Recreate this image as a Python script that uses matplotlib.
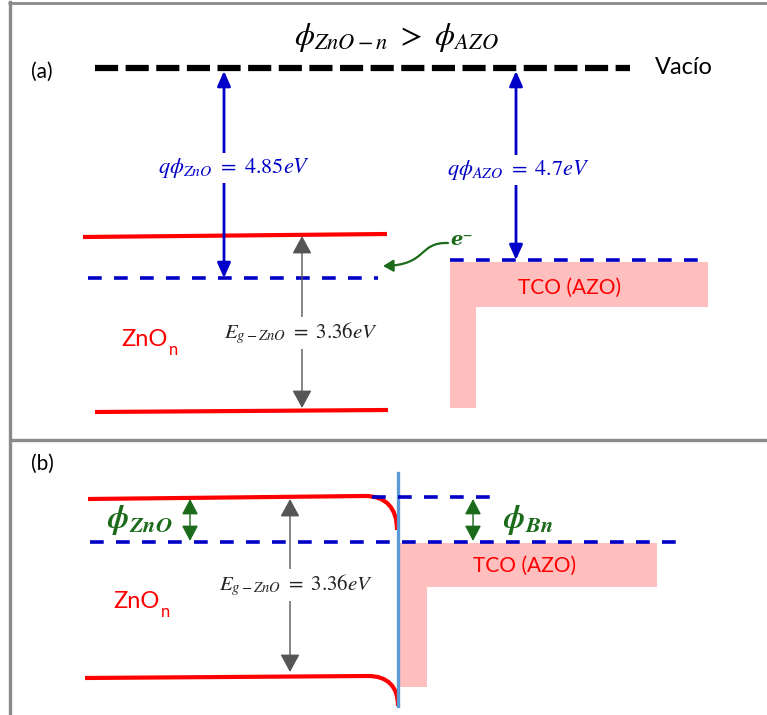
import matplotlib
matplotlib.use('Agg')
import matplotlib.pyplot as plt
from matplotlib.path import Path
from matplotlib.patches import PathPatch, Polygon, FancyArrowPatch

# 能带参数 (eV)
phi_zno = 4.85
phi_azo = 4.7
eg_zno = 3.36
panel_tags = ['(a)', '(b)']
vacuum_label = 'Vacío'
tco_label = 'TCO (AZO)'

RED = '#ff0000'
BLUE = '#0000c8'
PINK = '#ffbfbf'
GREEN = '#1b6b1b'
GRAY = '#555555'
EDGE = '#8a8a8a'
IFACE = '#5b9bd5'

plt.rcParams['mathtext.fontset'] = 'stix'
plt.rcParams['font.family'] = ['Lato', 'DejaVu Sans']

fig = plt.figure(figsize=(7.67, 7.15), dpi=100)
ax = fig.add_axes([0, 0, 1, 1])
ax.set_xlim(0, 767)
ax.set_ylim(715, 0)
ax.axis('off')


def hline(x0, x1, y0, y1=None, **kw):
    ax.plot([x0, x1], [y0, y0 if y1 is None else y1], solid_capstyle='butt', **kw)


def dashed(x0, x1, y, color, lw, pattern):
    ax.plot([x0, x1], [y, y], color=color, lw=lw, linestyle=(0, pattern),
            dash_capstyle='butt')


def arrow(x, y0, y1, color, lw, hl, hw, style='<|-|>'):
    ax.annotate('', xy=(x, y1), xytext=(x, y0),
                arrowprops=dict(arrowstyle=f'{style},head_length={hl},head_width={hw}',
                                color=color, lw=lw, shrinkA=0, shrinkB=0))


def label(x, y, s, color, size, **kw):
    ax.text(x, y, s, color=color, fontsize=size, ha='center', va='center',
            bbox=dict(fc='white', ec='none', pad=2), **kw)


def bent(x0, y0, xk, yk, x1, y1):
    # 平直能带到界面处弯曲
    verts = [(x0, y0), (xk, yk), (xk + (x1 - xk) * 0.65, yk),
             (x1, yk + (y1 - yk) * 0.35), (x1, y1)]
    codes = [Path.MOVETO, Path.LINETO, Path.CURVE4, Path.CURVE4, Path.CURVE4]
    ax.add_patch(PathPatch(Path(verts, codes), fill=False, ec=RED, lw=3))


def tco_block(x0, x1, xl, ytop, ybar, ybot):
    ax.add_patch(Polygon([(x0, ytop), (x1, ytop), (x1, ybar), (xl, ybar),
                          (xl, ybot), (x0, ybot)], closed=True, fc=PINK, ec='none'))


# 外框与分隔线
hline(8, 767, 3, color=EDGE, lw=2)
ax.plot([10, 10], [2, 715], color=EDGE, lw=2.4)
hline(10, 767, 440, color=EDGE, lw=2.4)

# ---------------- (a) ----------------
ax.text(42, 72, panel_tags[0], fontsize=15, ha='center', va='center')
ax.text(396, 38, r'$\phi_{ZnO-n}\ >\ \phi_{AZO}$', fontsize=23, ha='center', va='center')
dashed(95, 630, 68, 'black', 4.5, (3.7, 1.2))
ax.text(655, 68, vacuum_label, fontsize=17, ha='left', va='center')

tco_block(450, 708, 476, 262, 307, 408)
ax.text(570, 288, tco_label, fontsize=15, color=RED, ha='center', va='center')

hline(83, 387, 237, 234, color=RED, lw=3)
hline(95, 388, 412, 410, color=RED, lw=3)
dashed(88, 378, 278, BLUE, 2.6, (3.8, 3.4))
dashed(450, 708, 260, BLUE, 2.6, (3.8, 3.4))

arrow(224, 278, 71, BLUE, 2, 0.9, 0.4)
arrow(516, 260, 71, BLUE, 2, 0.9, 0.4)
label(234, 168, rf'$q\phi_{{ZnO}}\ =\ {phi_zno}eV$', BLUE, 16)
label(518, 170, rf'$q\phi_{{AZO}}\ =\ {phi_azo}eV$', BLUE, 16)

arrow(302, 408, 236, GRAY, 1, 1.1, 0.6)
label(301, 333, rf'$E_{{g-ZnO}}\ =\ {eg_zno}eV$', '#222222', 15)

ax.text(121, 340, 'ZnO', fontsize=17, color=RED, ha='left', va='center')
ax.text(169, 350, 'n', fontsize=12, color=RED, ha='left', va='center')

# 电子转移方向
e_path = Path([(448, 243), (418, 242), (428, 265), (383, 266)],
              [Path.MOVETO, Path.CURVE4, Path.CURVE4, Path.CURVE4])
ax.add_patch(FancyArrowPatch(path=e_path, arrowstyle='-|>,head_length=6,head_width=3.5',
                             color=GREEN, lw=1.6))
ax.text(462, 240, 'e⁻', fontsize=14, color=GREEN, ha='center', va='center',
        family='DejaVu Serif', fontweight='bold', fontstyle='italic')

# ---------------- (b) ----------------
ax.text(42, 464, panel_tags[1], fontsize=15, ha='center', va='center')

tco_block(400, 657, 427, 543, 587, 687)
ax.text(525, 566, tco_label, fontsize=15, color=RED, ha='center', va='center')

bent(88, 499, 365, 496, 397, 530)
bent(85, 678, 368, 676, 398, 706)
ax.plot([398, 398], [473, 706], color=IFACE, lw=2.4)

dashed(372, 500, 497, BLUE, 2.6, (3.8, 3.4))
dashed(90, 680, 542, BLUE, 2.6, (3.8, 3.4))

arrow(190, 499, 541, GREEN, 1, 0.95, 0.5)
arrow(473, 499, 541, GREEN, 1, 0.95, 0.5)
ax.text(140, 520, r'$\mathbfit{\phi}_{\mathbfit{ZnO}}$', fontsize=23, color=GREEN,
        ha='center', va='center')
ax.text(528, 520, r'$\mathbfit{\phi}_{\mathbfit{Bn}}$', fontsize=23, color=GREEN,
        ha='center', va='center')

arrow(290, 499, 672, GRAY, 1, 1.1, 0.6)
label(296, 585, rf'$E_{{g-ZnO}}\ =\ {eg_zno}eV$', '#222222', 15)

ax.text(113, 602, 'ZnO', fontsize=17, color=RED, ha='left', va='center')
ax.text(161, 612, 'n', fontsize=12, color=RED, ha='left', va='center')

fig.savefig('out.png', dpi=100)
plt.close(fig)
